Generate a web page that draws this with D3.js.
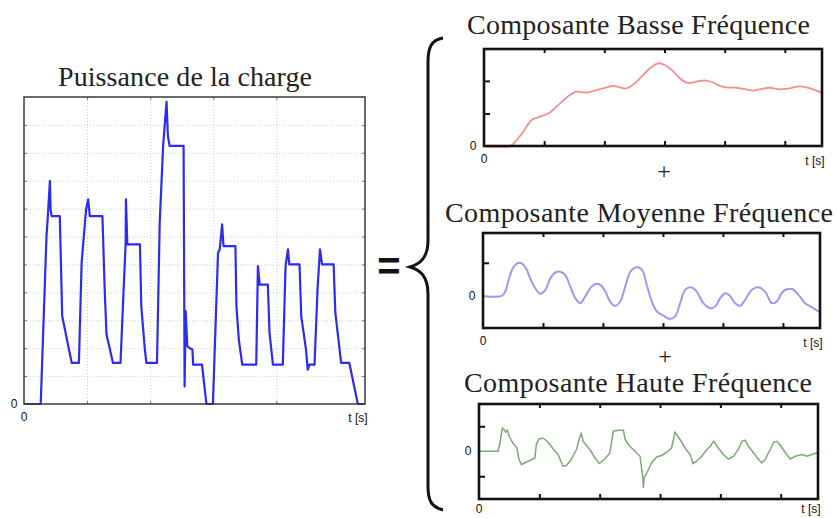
<!DOCTYPE html>
<html>
<head>
<meta charset="utf-8">
<script src="https://cdn.jsdelivr.net/npm/d3@7"></script>
<style>
  body { margin: 0; background: #fff; }
  .title { font-family: "Liberation Serif", "Times New Roman", serif; fill: #222; }
  .lbl { font-family: "Liberation Sans", Arial, sans-serif; font-size: 12px; fill: #111; }
</style>
</head>
<body>
<script>
// load power (left chart), time in % of window, power in grid units
var loadT = [0, 4.9, 6.6, 6.9, 7.6, 7.8, 8.1, 10.5, 11.2, 12.8, 14.0, 16.1, 16.9, 18.2, 18.8, 19.3, 23.0, 23.7, 24.2, 26.1,
  28.3, 29.3, 29.8, 29.9, 30.3, 34.0, 34.4, 35.4, 35.9, 39.0, 39.8, 40.8, 41.8, 42.2, 42.7, 46.8, 47.1, 47.4, 47.9, 48.6,
  49.4, 49.6, 52.2, 53.5, 55.4, 56.9, 57.4, 58.1, 58.5, 62.0, 62.3, 63.0, 64.0, 68.1, 68.6, 69.1, 71.5, 72.0, 73.0, 75.9,
  76.7, 77.4, 77.8, 80.8, 81.3, 82.7, 83.2, 83.7, 85.2, 86.1, 86.8, 87.4, 90.8, 91.3, 93.0, 95.4, 97.9, 100];
var loadP = [0, 0, 6.02, 6.55, 7.99, 6.97, 6.73, 6.73, 3.15, 2.19, 1.47, 1.47, 5.06, 6.97, 7.33, 6.73, 6.73, 3.98, 2.49, 1.47,
  1.47, 4.34, 5.72, 7.33, 5.72, 5.72, 3.5, 2.0, 1.47, 1.47, 6.5, 9.25, 10.83, 9.6, 9.25, 9.25, 0.63, 3.33, 2.07, 2.0,
  1.95, 1.41, 1.41, 0, 0, 5.42, 5.54, 6.44, 5.66, 5.66, 3.5, 2.31, 1.41, 1.41, 4.94, 4.28, 4.28, 2.55, 1.41, 1.41,
  4.94, 5.54, 5.0, 5.0, 3.15, 1.95, 1.23, 1.41, 1.41, 4.16, 5.54, 5.0, 5.0, 3.27, 1.47, 1.47, 0, 0];

// low frequency component
var basseT = [0, 7.7, 9.2, 11.6, 14.1, 16.6, 19.5, 22.5, 25.4, 27.4, 30.3, 33.3, 36.3, 38.2, 40.2, 42.2, 44.1, 46.6, 49.1, 51.5,
  53.5, 56.0, 57.9, 59.9, 61.9, 63.8, 65.8, 67.8, 69.8, 71.7, 74.7, 77.6, 79.6, 81.6, 84.5, 87.5, 90.4, 93.4, 95.4, 97.3, 100];
var basseV = [0, 0, 0.13, 0.44, 0.8, 0.9, 1.03, 1.31, 1.57, 1.67, 1.64, 1.72, 1.8, 1.85, 1.8, 1.77, 1.88, 2.13, 2.39, 2.54,
  2.49, 2.29, 2.08, 1.95, 1.95, 2.0, 2.01, 1.95, 1.85, 1.8, 1.79, 1.74, 1.7, 1.74, 1.79, 1.74, 1.77, 1.83, 1.8, 1.74, 1.64];

// medium frequency component
var moyT = [0, 5.6, 6.6, 7.6, 9.1, 10.9, 12.5, 14.0, 15.5, 17.0, 18.5, 20.0, 21.4, 22.9, 24.4, 25.9, 27.4, 28.9, 30.3, 31.8,
  33.3, 34.8, 36.3, 37.7, 39.2, 40.7, 42.2, 43.7, 45.2, 47.1, 48.6, 50.1, 51.6, 53.6, 55.5, 57.0, 58.5, 60.0, 61.7, 63.4,
  65.4, 67.4, 68.9, 70.4, 71.8, 73.3, 74.8, 76.3, 77.8, 79.7, 81.7, 83.7, 85.7, 87.2, 88.6, 90.1, 91.9, 93.6, 95.6, 97.5, 100];
var moyV = [0, 0, 0.13, 0.48, 0.88, 1.0, 0.88, 0.53, 0.23, 0.06, 0.18, 0.53, 0.7, 0.73, 0.63, 0.28, -0.07, -0.22, -0.02, 0.23,
  0.36, 0.33, 0.13, -0.17, -0.3, -0.17, 0.28, 0.73, 0.86, 0.8, 0.33, -0.17, -0.47, -0.6, -0.7, -0.62, -0.22, 0.18, 0.26, 0.13,
  -0.22, -0.37, -0.32, -0.07, 0.08, 0, -0.22, -0.3, -0.12, 0.18, 0.26, 0.13, -0.22, -0.17, 0.08, 0.2, 0.2, 0.03, -0.22, -0.34, -0.5];

// high frequency component
var hauteT = [0, 5.6, 6.1, 6.9, 7.4, 7.9, 8.4, 8.9, 10.0, 11.2, 11.8, 12.5, 14.5, 16.5, 16.9, 17.7, 18.9, 20.4, 21.9, 23.3,
  24.8, 25.8, 27.3, 28.8, 29.8, 30.2, 30.7, 31.5, 32.7, 34.2, 35.5, 37.1, 38.6, 39.6, 41.1, 42.6, 43.1, 44.3, 46.0, 47.5,
  48.0, 48.3, 48.5, 48.7, 49.5, 50.9, 52.4, 53.9, 55.4, 56.8, 57.8, 59.3, 60.8, 62.3, 63.1, 64.2, 65.7, 67.2, 68.2, 69.2,
  70.6, 72.1, 73.6, 75.1, 76.6, 77.5, 78.5, 79.5, 81.0, 82.5, 83.4, 84.4, 85.9, 86.9, 87.9, 88.9, 90.3, 91.8, 93.3, 95.3,
  96.7, 98.2, 100];
var hauteV = [0, 0, 0.27, 0.93, 0.87, 0.76, 0.84, 0.6, 0.33, 0.13, -0.33, -0.53, -0.4, -0.27, 0.27, 0.49, 0.53, 0.36, 0.09, -0.13,
  -0.6, -0.57, -0.31, 0.09, 0.6, 0.71, 0.4, 0.27, 0.07, -0.27, -0.49, -0.31, -0.07, 0.8, 0.84, 0.84, 0.47, 0.23, 0, -0.2,
  -0.73, -1.0, -1.47, -1.07, -0.87, -0.47, -0.23, -0.17, -0.04, 0.13, 0.76, 0.47, 0.13, -0.13, -0.49, -0.4, -0.2, 0.07, 0.2, 0.4,
  0.13, -0.13, -0.31, -0.2, 0.09, 0.4, 0.44, 0.2, -0.07, -0.33, -0.47, -0.33, 0.07, 0.36, 0.4, 0.23, -0.04, -0.31, -0.2, -0.13,
  -0.2, -0.13, -0.04];

var loadGridX = [18.5, 37, 55.5, 74];
var loadGridY = [1, 2, 3, 4, 5, 6, 7, 8, 9, 10];
var compTicksX = [17.8, 35.6, 53.4, 71.2, 89];

var svg = d3.select("body").append("svg")
    .attr("width", 837)
    .attr("height", 518);

function zip(a, b) { return a.map(function(d, i) { return [d, b[i]]; }); }

// ---- left chart: load power ----
var L = {left: 24, top: 97, width: 341, height: 307};
var lx = d3.scaleLinear().domain([0, 100]).range([L.left, L.left + L.width]);
var ly = d3.scaleLinear().domain([0, 11]).range([L.top + L.height, L.top]);
var lg = svg.append("g");

lg.append("g")
  .attr("transform", "translate(0," + (L.top + L.height) + ")")
  .call(d3.axisBottom(lx).tickValues(loadGridX).tickSize(-L.height).tickFormat(""))
  .call(function(a) { a.select(".domain").remove(); a.selectAll("line").attr("stroke", "#d0d0d0").attr("stroke-dasharray", "1,2"); });
lg.append("g")
  .attr("transform", "translate(" + L.left + ",0)")
  .call(d3.axisLeft(ly).tickValues(loadGridY).tickSize(-L.width).tickFormat(""))
  .call(function(a) { a.select(".domain").remove(); a.selectAll("line").attr("stroke", "#d0d0d0").attr("stroke-dasharray", "1,2"); });

// short inner ticks on each side
[["axisTop", lx, loadGridX, L.top + L.height, -1], ["axisBottom", lx, loadGridX, L.top, 1]].forEach(function(s) {
  lg.append("g").attr("transform", "translate(0," + s[3] + ")")
    .call(d3[s[0]](s[1]).tickValues(s[2]).tickSize(3).tickFormat(""))
    .call(function(a) { a.select(".domain").remove(); a.selectAll("line").attr("stroke", "#777"); });
});
[["axisRight", L.left], ["axisLeft", L.left + L.width]].forEach(function(s) {
  lg.append("g").attr("transform", "translate(" + s[1] + ",0)")
    .call(d3[s[0]](ly).tickValues(loadGridY).tickSize(3).tickFormat(""))
    .call(function(a) { a.select(".domain").remove(); a.selectAll("line").attr("stroke", "#777"); });
});

lg.append("path")
  .datum(zip(loadT, loadP))
  .attr("fill", "none")
  .attr("stroke", "#2b2bf2")
  .attr("stroke-width", 2.2)
  .attr("stroke-linejoin", "round")
  .attr("d", d3.line().x(function(d) { return lx(d[0]); }).y(function(d) { return ly(d[1]); }));

lg.append("rect")
  .attr("x", L.left).attr("y", L.top).attr("width", L.width).attr("height", L.height)
  .attr("fill", "none").attr("stroke", "#3a3a3a").attr("stroke-width", 1.5);

svg.append("text").attr("class", "title").attr("x", 58).attr("y", 86)
  .attr("font-size", 28).attr("textLength", 254).text("Puissance de la charge");
svg.append("text").attr("class", "lbl").attr("x", 14).attr("y", ly(0) + 4).attr("text-anchor", "middle").text("0");
svg.append("text").attr("class", "lbl").attr("x", lx(0)).attr("y", 421).attr("text-anchor", "middle").text("0");
svg.append("text").attr("class", "lbl").attr("x", 358).attr("y", 422).attr("text-anchor", "middle").text("t [s]");

// ---- right charts: components ----
function drawComp(p) {
  var x = d3.scaleLinear().domain([0, 100]).range([p.left, p.left + p.width]);
  var y = d3.scaleLinear().domain(p.ydom).range([p.top + p.height, p.top]);
  var g = svg.append("g");

  g.append("path")
    .datum(zip(p.t, p.v))
    .attr("fill", "none")
    .attr("stroke", p.color)
    .attr("stroke-width", p.sw)
    .attr("d", d3.line().curve(p.curve).x(function(d) { return x(d[0]); }).y(function(d) { return y(d[1]); }));

  g.append("rect")
    .attr("x", p.left).attr("y", p.top).attr("width", p.width).attr("height", p.height)
    .attr("fill", "none").attr("stroke", "#111").attr("stroke-width", 2.6);

  g.append("g").attr("transform", "translate(0," + (p.top + p.height) + ")")
    .call(d3.axisTop(x).tickValues(compTicksX).tickSize(5).tickFormat(""))
    .call(function(a) { a.select(".domain").remove(); a.selectAll("line").attr("stroke", "#111").attr("stroke-width", 2); });
  g.append("g").attr("transform", "translate(0," + p.top + ")")
    .call(d3.axisBottom(x).tickValues(compTicksX).tickSize(4).tickFormat(""))
    .call(function(a) { a.select(".domain").remove(); a.selectAll("line").attr("stroke", "#111").attr("stroke-width", 2); });
  g.append("g").attr("transform", "translate(" + p.left + ",0)")
    .call(d3.axisRight(y).tickValues(p.yticks).tickSize(6).tickFormat(""))
    .call(function(a) { a.select(".domain").remove(); a.selectAll("line").attr("stroke", "#111").attr("stroke-width", 2); });

  svg.append("text").attr("class", "title").attr("x", p.tx).attr("y", p.ty)
    .attr("font-size", 28).attr("textLength", p.tw).text(p.title);
  svg.append("text").attr("class", "lbl").attr("x", p.left - 11).attr("y", y(0) + 4).attr("text-anchor", "middle").text("0");
  svg.append("text").attr("class", "lbl").attr("x", p.left).attr("y", Math.min(p.top + p.height + 17, 513)).attr("text-anchor", "middle").text("0");
  svg.append("text").attr("class", "lbl").attr("x", p.left + p.width - 7).attr("y", Math.min(p.top + p.height + 19, 513)).attr("text-anchor", "middle").text("t [s]");
}

drawComp({t: basseT, v: basseV, left: 484, top: 49, width: 338, height: 97, ydom: [0, 2.98], yticks: [1, 2],
  color: "#f29090", sw: 1.8, curve: d3.curveCatmullRom,
  title: "Composante Basse Fréquence", tx: 467, ty: 34, tw: 343});
drawComp({t: moyT, v: moyV, left: 483, top: 233, width: 337, height: 95, ydom: [-0.97, 1.9], yticks: [1],
  color: "#9a9af4", sw: 2, curve: d3.curveCatmullRom,
  title: "Composante Moyenne Fréquence", tx: 445, ty: 222, tw: 388});
drawComp({t: hauteT, v: hauteV, left: 479, top: 404, width: 339, height: 95, ydom: [-1.91, 1.89], yticks: [-1, 1],
  color: "#7aab72", sw: 1.5, curve: d3.curveLinear,
  title: "Composante Haute Fréquence", tx: 464, ty: 392, tw: 348});

// plus signs between components
[[664, 179], [665, 364]].forEach(function(p) {
  svg.append("text").attr("class", "title").attr("x", p[0]).attr("y", p[1])
    .attr("font-size", 24).attr("text-anchor", "middle").text("+");
});

// equals sign and brace
svg.append("text").attr("x", 389).attr("y", 280).attr("text-anchor", "middle")
  .attr("font-family", "Liberation Sans, Arial, sans-serif").attr("font-weight", "bold")
  .attr("font-size", 40).attr("fill", "#111").text("=");

svg.append("path")
  .attr("d", "M443,38 C431,40 428,48 428,62 L428,240 C428,258 420,264 410,267 C420,270 428,276 428,294 L428,486 C428,500 431,507 443,510")
  .attr("fill", "none").attr("stroke", "#111").attr("stroke-width", 3);
</script>
</body>
</html>
